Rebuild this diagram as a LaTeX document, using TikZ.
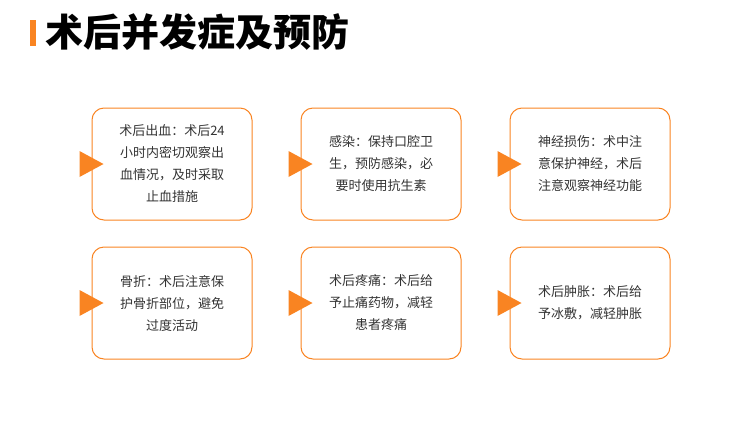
\documentclass[tikz,border=0pt]{standalone}
\usepackage{fontspec}
\setmainfont{Noto Sans CJK SC}
\usetikzlibrary{positioning}
\definecolor{accent}{HTML}{F98422}
\definecolor{txt}{HTML}{333333}
\tikzset{
  card/.style={draw=accent,line width=1pt,rounded corners=12pt,minimum width=160pt,
    minimum height=112pt,text width=140pt,align=center,text=txt,
    font=\fontsize{13}{22}\selectfont},
  tip/.style={fill=accent,draw=none}
}
\begin{document}
\begin{tikzpicture}[x=1pt,y=-1pt]
  \useasboundingbox (0,0) rectangle (750,421);
  % title
  \fill[accent] (30,20) rectangle (36,46);
  \node[anchor=west,text=black,font=\fontsize{38}{38}\selectfont\bfseries] (title) at (42,32) {术后并发症及预防};
  % cards
  \node[card] (c1) at (172,164) {术后出血：术后24\\小时内密切观察出\\血情况，及时采取\\止血措施};
  \node[card] (c2) at (381,164) {感染：保持口腔卫\\生，预防感染，必\\要时使用抗生素};
  \node[card] (c3) at (590,164) {神经损伤：术中注\\意保护神经，术后\\注意观察神经功能};
  \node[card] (c4) at (172,303) {骨折：术后注意保\\护骨折部位，避免\\过度活动};
  \node[card] (c5) at (381,303) {术后疼痛：术后给\\予止痛药物，减轻\\患者疼痛};
  \node[card] (c6) at (590,303) {术后肿胀：术后给\\予冰敷，减轻肿胀};
  % markers
  \foreach \c in {c1,c2,c3,c4,c5,c6}
    \fill[tip] ([xshift=-12pt,yshift=-13pt]\c.west) -- ([xshift=-12pt,yshift=13pt]\c.west)
      -- ([xshift=12pt]\c.west) -- cycle;
\end{tikzpicture}
\end{document}
